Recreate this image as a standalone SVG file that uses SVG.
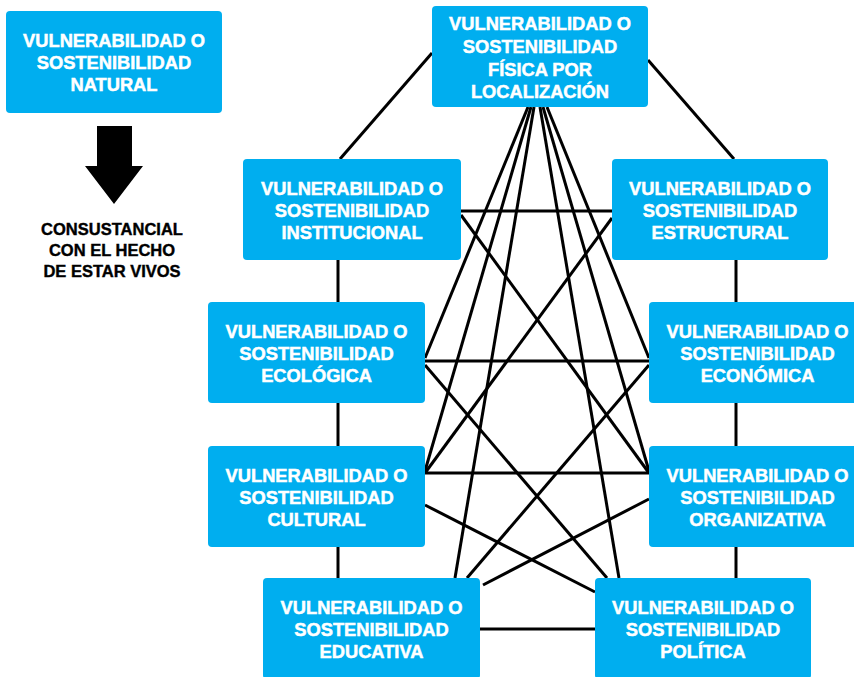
<svg xmlns="http://www.w3.org/2000/svg" width="854" height="677" viewBox="0 0 854 677">
<style>
.box{fill:#00AEEF}
.t{font-family:"Liberation Sans",Arial,sans-serif;font-weight:bold;font-size:18.3px;fill:#fff;stroke:#fff;stroke-width:0.5;text-anchor:middle}
.k{font-family:"Liberation Sans",Arial,sans-serif;font-weight:bold;font-size:16.5px;fill:#000;stroke:#000;stroke-width:0.4;text-anchor:middle}
.c line{stroke:#000;stroke-width:3;stroke-linecap:butt}
</style>
<rect width="854" height="677" fill="#fff"/>
<g class="c" id="connectors">
<line x1="432" y1="53" x2="340" y2="159"/>
<line x1="648" y1="60" x2="734" y2="159"/>
<line x1="338" y1="260" x2="338" y2="302"/>
<line x1="338" y1="403" x2="338" y2="446"/>
<line x1="338" y1="547" x2="338" y2="578"/>
<line x1="736" y1="260" x2="736" y2="302"/>
<line x1="736" y1="403" x2="736" y2="446"/>
<line x1="736" y1="547" x2="736" y2="578"/>
<line x1="461" y1="211" x2="612" y2="211"/>
<line x1="425" y1="361" x2="649" y2="361"/>
<line x1="425" y1="473" x2="649" y2="473"/>
<line x1="480" y1="629" x2="595" y2="629"/>
<line x1="528" y1="107" x2="425" y2="358"/>
<line x1="531" y1="107" x2="425" y2="471"/>
<line x1="534" y1="107" x2="455" y2="578"/>
<line x1="540" y1="107" x2="619" y2="578"/>
<line x1="543" y1="107" x2="649" y2="471"/>
<line x1="547" y1="107" x2="649" y2="358"/>
<line x1="461" y1="215" x2="649" y2="473"/>
<line x1="612" y1="218" x2="425" y2="473"/>
<line x1="425" y1="365" x2="607" y2="578"/>
<line x1="649" y1="365" x2="467" y2="578"/>
<line x1="425" y1="505" x2="595" y2="592"/>
<line x1="649" y1="499" x2="483" y2="585"/>
</g>
<g id="natural">
<rect class="box" x="6" y="11" width="216" height="102" rx="4"/>
<text class="t" x="114" y="47">VULNERABILIDAD O</text>
<text class="t" x="114" y="69">SOSTENIBILIDAD</text>
<text class="t" x="114" y="91">NATURAL</text>
</g>
<g id="arrow">
<polygon points="97,126 132,126 132,166 143,166 114,204 85,166 97,166" fill="#000"/>
</g>
<g id="consustancial">
<text class="k" x="112" y="235">CONSUSTANCIAL</text>
<text class="k" x="112" y="256">CON EL HECHO</text>
<text class="k" x="112" y="277">DE ESTAR VIVOS</text>
</g>
<g id="fisica">
<rect class="box" x="432" y="6" width="216" height="101" rx="4"/>
<text class="t" x="540" y="30">VULNERABILIDAD O</text>
<text class="t" x="540" y="53">SOSTENIBILIDAD</text>
<text class="t" x="540" y="76">FÍSICA POR</text>
<text class="t" x="540" y="98">LOCALIZACIÓN</text>
</g>
<g id="institucional">
<rect class="box" x="243" y="159" width="218" height="101" rx="4"/>
<text class="t" x="352" y="195">VULNERABILIDAD O</text>
<text class="t" x="352" y="217">SOSTENIBILIDAD</text>
<text class="t" x="352" y="239">INSTITUCIONAL</text>
</g>
<g id="estructural">
<rect class="box" x="612" y="159" width="216" height="101" rx="4"/>
<text class="t" x="720" y="195">VULNERABILIDAD O</text>
<text class="t" x="720" y="217">SOSTENIBILIDAD</text>
<text class="t" x="720" y="239">ESTRUCTURAL</text>
</g>
<g id="ecologica">
<rect class="box" x="208" y="302" width="217" height="101" rx="4"/>
<text class="t" x="316.5" y="338">VULNERABILIDAD O</text>
<text class="t" x="316.5" y="360">SOSTENIBILIDAD</text>
<text class="t" x="316.5" y="382">ECOLÓGICA</text>
</g>
<g id="economica">
<rect class="box" x="649" y="302" width="217" height="101" rx="4"/>
<text class="t" x="757.5" y="338">VULNERABILIDAD O</text>
<text class="t" x="757.5" y="360">SOSTENIBILIDAD</text>
<text class="t" x="757.5" y="382">ECONÓMICA</text>
</g>
<g id="cultural">
<rect class="box" x="208" y="446" width="217" height="101" rx="4"/>
<text class="t" x="316.5" y="482">VULNERABILIDAD O</text>
<text class="t" x="316.5" y="504">SOSTENIBILIDAD</text>
<text class="t" x="316.5" y="526">CULTURAL</text>
</g>
<g id="organizativa">
<rect class="box" x="649" y="446" width="217" height="101" rx="4"/>
<text class="t" x="757.5" y="482">VULNERABILIDAD O</text>
<text class="t" x="757.5" y="504">SOSTENIBILIDAD</text>
<text class="t" x="757.5" y="526">ORGANIZATIVA</text>
</g>
<g id="educativa">
<rect class="box" x="263" y="578" width="217" height="101" rx="4"/>
<text class="t" x="371.5" y="614">VULNERABILIDAD O</text>
<text class="t" x="371.5" y="636">SOSTENIBILIDAD</text>
<text class="t" x="371.5" y="658">EDUCATIVA</text>
</g>
<g id="politica">
<rect class="box" x="595" y="578" width="216" height="101" rx="4"/>
<text class="t" x="703" y="614">VULNERABILIDAD O</text>
<text class="t" x="703" y="636">SOSTENIBILIDAD</text>
<text class="t" x="703" y="658">POLÍTICA</text>
</g>
</svg>
